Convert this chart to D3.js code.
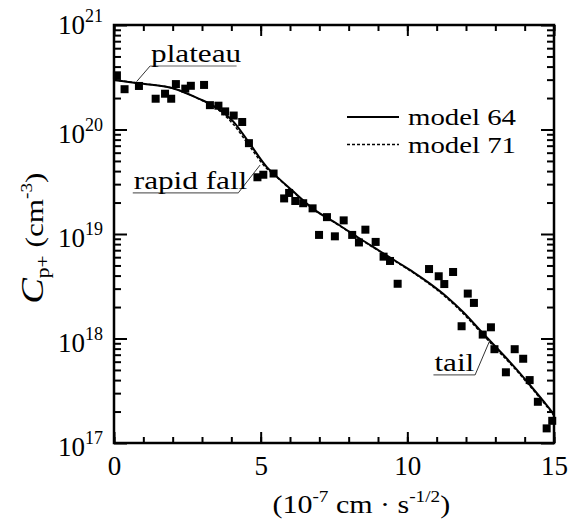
<!DOCTYPE html>
<html>
<head>
<meta charset="utf-8">
<script src="https://cdn.jsdelivr.net/npm/d3@7"></script>
<style>
  body { margin: 0; background: #fff; }
</style>
</head>
<body>
<svg id="chart"></svg>
<script>
const width = 575;
const height = 519;
const margin = {top: 25, left: 114, bottom: 76, right: 21};
const plotWidth = width - (margin.left + margin.right);
const plotHeight = height - (margin.top + margin.bottom);
const serif = "'Liberation Serif'";
const widen = 1.2; // the reference type is set wider than Times

// measured points (x in 1e-7 cm s^-1/2, C in cm^-3)
const measX = [0.10, 0.36, 0.85, 1.42, 1.74, 1.95, 2.11, 2.43, 2.62, 3.07,
  3.27, 3.56, 3.79, 4.08, 4.37, 4.60, 4.89, 5.09, 5.44, 5.80,
  5.97, 6.18, 6.45, 6.77, 7.26, 6.99, 7.53, 7.83, 8.12, 8.35,
  8.57, 8.92, 9.19, 9.41, 9.67, 10.74, 11.07, 11.26, 11.56, 12.06,
  12.27, 11.85, 12.57, 12.85, 12.97, 13.36, 13.66, 13.95, 14.17, 14.45,
  14.75, 14.94];
const measC = [3.3e20, 2.43e20, 2.61e20, 1.97e20, 2.2e20, 1.97e20, 2.72e20, 2.46e20, 2.62e20, 2.67e20,
  1.71e20, 1.69e20, 1.49e20, 1.36e20, 1.18e20, 7.4e19, 3.49e19, 3.69e19, 3.79e19, 2.19e19,
  2.47e19, 2.07e19, 1.97e19, 1.76e19, 1.45e19, 9.8e18, 9.5e18, 1.35e19, 9.8e18, 8.3e18,
  1.10e19, 8.4e18, 6.07e18, 5.52e18, 3.34e18, 4.62e18, 3.94e18, 3.32e18, 4.33e18, 2.69e18,
  2.19e18, 1.31e18, 1.09e18, 1.28e18, 7.9e17, 4.75e17, 7.9e17, 6.4e17, 4.0e17, 2.48e17,
  1.38e17, 1.63e17];

// model curves
const modelX = [0, 0.85, 2.11, 2.93, 3.27, 3.61, 4.07, 4.64, 5.21, 5.44,
  6.06, 6.77, 7.71, 8.39, 9.07, 9.75, 10.20, 10.77, 11.34, 11.91,
  12.48, 12.93, 13.61, 14.18, 14.64, 14.92, 15];
const model64 = [2.98e20, 2.77e20, 2.43e20, 1.95e20, 1.76e20, 1.54e20, 1.19e20, 7.24e19, 4.37e19, 3.78e19,
  2.63e19, 1.76e19, 1.20e19, 9.0e18, 6.84e18, 5.19e18, 4.32e18, 3.35e18, 2.51e18, 1.78e18,
  1.20e18, 8.8e17, 5.5e17, 3.59e17, 2.51e17, 2.0e17, 1.86e17];
const model71 = [2.98e20, 2.77e20, 2.43e20, 1.94e20, 1.74e20, 1.50e20, 1.12e20, 6.8e19, 4.22e19, 3.72e19,
  2.60e19, 1.75e19, 1.19e19, 8.9e18, 6.78e18, 5.13e18, 4.26e18, 3.29e18, 2.45e18, 1.73e18,
  1.16e18, 8.5e17, 5.35e17, 3.5e17, 2.45e17, 1.96e17, 1.82e17];

const legendNames = ['model 64', 'model 71'];

// annotations: label, leader tip, underline span
const noteLabels = ['plateau', 'rapid fall', 'tail'];
const noteTipX = [0.77, 4.98, 12.82];
const noteTipC = [2.87e20, 4.57e19, 9.7e17];
const noteX0 = [1.23, 0.64, 10.89];
const noteX1 = [4.18, 4.24, 12.31];
const noteC = [4.05e20, 2.48e19, 4.48e17];

const xMajor = [0, 5, 10, 15];
const xMinor = d3.range(0, 16);
const decades = [17, 18, 19, 20, 21];

const svg = d3.select('#chart')
  .attr('width', width)
  .attr('height', height);

const plot = svg.append('g')
  .attr('transform', `translate(${margin.left},${margin.top})`);

const xScale = d3.scaleLinear().domain([0, 15]).range([0, plotWidth]);
const yScale = d3.scaleLog().domain([1e17, 1e21]).range([plotHeight, 0]);

const yMajor = decades.map(d => Math.pow(10, d));
const yMinor = [];
decades.slice(0, -1).forEach(d => {
  for (let k = 2; k <= 9; k++) yMinor.push(k * Math.pow(10, d));
});

function styleAxis(g){
  g.select('.domain').remove();
  g.selectAll('.tick line').attr('stroke', '#000').attr('stroke-width', 2);
}

function stretch(sel){
  sel.each(function(){
    const len = this.getComputedTextLength();
    d3.select(this)
      .attr('textLength', len * widen)
      .attr('lengthAdjust', 'spacingAndGlyphs');
  });
}

// ticks, all pointing inward
plot.append('g').attr('transform', `translate(0,${plotHeight})`)
  .call(d3.axisBottom(xScale).tickValues(xMinor).tickSize(-6).tickFormat(''))
  .call(styleAxis);
plot.append('g').attr('class', 'x-major').attr('transform', `translate(0,${plotHeight})`)
  .call(d3.axisBottom(xScale).tickValues(xMajor).tickSize(-11).tickPadding(13).tickFormat(d3.format('d')))
  .call(styleAxis);
plot.append('g')
  .call(d3.axisTop(xScale).tickValues(xMinor).tickSize(-6).tickFormat(''))
  .call(styleAxis);
plot.append('g')
  .call(d3.axisTop(xScale).tickValues(xMajor).tickSize(-11).tickFormat(''))
  .call(styleAxis);

plot.append('g')
  .call(d3.axisLeft(yScale).tickValues(yMinor).tickSize(-7).tickFormat(''))
  .call(styleAxis);
plot.append('g')
  .call(d3.axisLeft(yScale).tickValues(yMajor).tickSize(-13).tickFormat(''))
  .call(styleAxis);
plot.append('g').attr('transform', `translate(${plotWidth},0)`)
  .call(d3.axisRight(yScale).tickValues(yMinor).tickSize(-7).tickFormat(''))
  .call(styleAxis);
plot.append('g').attr('transform', `translate(${plotWidth},0)`)
  .call(d3.axisRight(yScale).tickValues(yMajor).tickSize(-13).tickFormat(''))
  .call(styleAxis);

plot.selectAll('.x-major text')
  .style('font-family', serif)
  .attr('font-size', 27)
  .attr('fill', '#000');

// y labels 10^n
const yLabels = plot.selectAll('text.ylab')
  .data(decades)
  .enter()
  .append('text')
    .attr('class', 'ylab')
    .style('font-family', serif)
    .attr('x', -11)
    .attr('y', d => yScale(Math.pow(10, d)) + (d === 21 ? 9 : 13))
    .attr('text-anchor', 'end')
    .attr('font-size', 27);
yLabels.append('tspan').text('10');
yLabels.append('tspan').attr('font-size', 18).attr('dy', -12).text(d => d);

// frame
plot.append('rect')
  .attr('width', plotWidth)
  .attr('height', plotHeight)
  .attr('fill', 'none')
  .attr('stroke', '#000')
  .attr('stroke-width', 2.5);

// model lines
const line = d3.line()
  .x(d => xScale(d[0]))
  .y(d => yScale(d[1]))
  .curve(d3.curveMonotoneX);

plot.append('path')
  .datum(modelX.map((x, i) => [x, model71[i]]))
  .attr('fill', 'none')
  .attr('stroke', '#000')
  .attr('stroke-width', 1.5)
  .attr('stroke-dasharray', '3,2')
  .attr('d', line);

plot.append('path')
  .datum(modelX.map((x, i) => [x, model64[i]]))
  .attr('fill', 'none')
  .attr('stroke', '#000')
  .attr('stroke-width', 2)
  .attr('d', line);

// measured points
const sq = 8;
plot.selectAll('rect.pt')
  .data(measX.map((x, i) => [x, measC[i]]))
  .enter()
  .append('rect')
    .attr('class', 'pt')
    .attr('x', d => xScale(d[0]) - sq / 2)
    .attr('y', d => yScale(d[1]) - sq / 2)
    .attr('width', sq)
    .attr('height', sq)
    .attr('fill', '#000');

// annotations
const notes = noteLabels.map((t, i) => ({
  text: t, tipX: noteTipX[i], tipC: noteTipC[i], x0: noteX0[i], x1: noteX1[i], c: noteC[i]
}));
const noteG = plot.selectAll('g.note')
  .data(notes)
  .enter()
  .append('g')
    .attr('class', 'note');
noteG.append('line')
  .attr('x1', d => xScale(d.x0))
  .attr('x2', d => xScale(d.x1))
  .attr('y1', d => yScale(d.c))
  .attr('y2', d => yScale(d.c))
  .attr('stroke', '#666')
  .attr('stroke-width', 1.2);
noteG.append('line')
  .attr('x1', d => xScale(d.tipX < d.x0 ? d.x0 : d.x1))
  .attr('y1', d => yScale(d.c))
  .attr('x2', d => xScale(d.tipX))
  .attr('y2', d => yScale(d.tipC))
  .attr('stroke', '#333')
  .attr('stroke-width', 1);
noteG.append('text')
  .style('font-family', serif)
  .attr('x', d => xScale(d.x0) + 1)
  .attr('y', d => yScale(d.c) - 4)
  .attr('font-size', 26)
  .text(d => d.text)
  .call(stretch);

// legend
const legend = plot.append('g')
  .attr('transform', 'translate(233,92)');
const legendItem = legend.selectAll('g')
  .data(legendNames)
  .enter()
  .append('g')
    .attr('transform', (d, i) => `translate(0,${i * 27.5})`);
legendItem.append('line')
  .attr('x1', 0)
  .attr('x2', 52)
  .attr('stroke', '#000')
  .attr('stroke-width', (d, i) => i ? 1.5 : 2)
  .attr('stroke-dasharray', (d, i) => i ? '3,2' : null);
legendItem.append('text')
  .style('font-family', serif)
  .attr('x', 61)
  .attr('y', 8)
  .attr('font-size', 24)
  .text(d => d)
  .call(stretch);

// axis titles
const xTitle = svg.append('text')
  .style('font-family', serif)
  .attr('x', margin.left + plotWidth * 0.562)
  .attr('y', 513)
  .attr('text-anchor', 'middle')
  .attr('font-size', 25);
xTitle.append('tspan').text('(10');
xTitle.append('tspan').attr('font-size', 16).attr('dy', -11).text('-7');
xTitle.append('tspan').attr('dy', 11).text(' cm \u00b7 s');
xTitle.append('tspan').attr('font-size', 16).attr('dy', -11).text('-1/2');
xTitle.append('tspan').attr('dy', 11).text(')');
xTitle.call(stretch);

const yTitle = svg.append('text')
  .style('font-family', serif)
  .attr('transform', `translate(43,${margin.top + plotHeight * 0.51}) rotate(-90)`)
  .attr('text-anchor', 'middle')
  .attr('font-size', 26);
yTitle.append('tspan').attr('font-style', 'italic').attr('font-size', 32).text('C');
yTitle.append('tspan').attr('font-size', 18).attr('dy', 6).text('p+');
yTitle.append('tspan').attr('dy', -6).text(' (cm');
yTitle.append('tspan').attr('font-size', 16).attr('dy', -11).text('-3');
yTitle.append('tspan').attr('dy', 11).text(')');
yTitle.call(stretch);
</script>
</body>
</html>
